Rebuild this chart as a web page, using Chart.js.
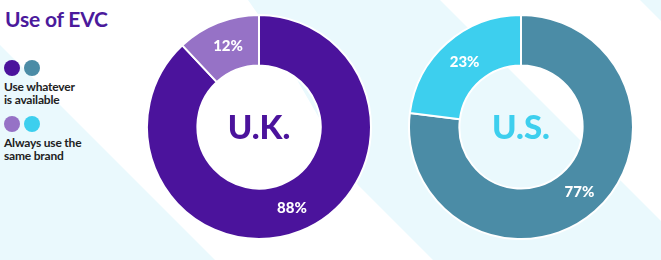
<!DOCTYPE html>
<html>
<head>
<meta charset="utf-8">
<script src="https://cdn.jsdelivr.net/npm/chart.js@4.4.0/dist/chart.umd.min.js"></script>
<style>
  html, body { margin: 0; padding: 0; background: #fff; }
  #wrap { position: relative; width: 661px; height: 260px; overflow: hidden; font-family: Lato, "Noto Sans", sans-serif; }
  #bg { position: absolute; left: 0; top: 0; }
  .chart { position: absolute; }
  #title { position: absolute; left: 5px; top: 6px; font-size: 21px; font-weight: 700; color: #4b1a9c; letter-spacing: -0.2px; }
  .legend { position: absolute; left: 4px; font-size: 12px; font-weight: 700; color: #222; line-height: 13px; letter-spacing: -0.2px; }
  .dots { height: 16px; margin-bottom: 4px; }
  .dot { display: inline-block; width: 16px; height: 16px; border-radius: 50%; margin-right: 4px; }
</style>
</head>
<body>
<div id="wrap">
  <svg id="bg" width="661" height="260">
    <polygon points="0,45 215,260 0,260" fill="#eaf9fd"/>
    <polygon points="248,0 440,0 661,221 661,260 433,260 358,185 300,85 262,20" fill="#eaf9fd"/>
    <polygon points="640,0 661,0 661,21" fill="#eaf9fd"/>
  </svg>
  <div id="title">Use of EVC</div>
  <div id="legend"></div>
  <canvas id="uk" class="chart" width="226" height="226" style="left:146px;top:14px"></canvas>
  <canvas id="us" class="chart" width="226" height="226" style="left:408px;top:14px"></canvas>
</div>
<script>
const countries = ['U.K.', 'U.S.'];
const categories = ['Use whatever is available', 'Always use the same brand'];
const legendLines = [['Use whatever', 'is available'], ['Always use the', 'same brand']];
const ukValues = [88, 12];
const usValues = [77, 23];

const ukColors = ['#4b139c', '#9672c6'];
const usColors = ['#4b8ca6', '#3dcfee'];
const centerColors = ['#4b139c', '#3dcfee'];

// legend built by hand: two dots per category
const legendTops = [60, 116];
const legendEl = document.getElementById('legend');
categories.forEach((c, i) => {
  const d = document.createElement('div');
  d.className = 'legend';
  d.style.top = legendTops[i] + 'px';
  d.innerHTML = '<div class="dots"><span class="dot" style="background:' + ukColors[i] + '"></span>' +
    '<span class="dot" style="background:' + usColors[i] + '"></span></div>' + legendLines[i].join('<br>');
  legendEl.appendChild(d);
});

const labelsPlugin = {
  id: 'pctLabels',
  afterDatasetsDraw(chart) {
    const ctx = chart.ctx;
    const meta = chart.getDatasetMeta(0);
    ctx.save();
    ctx.fillStyle = '#fff';
    ctx.font = '900 15px Lato';
    ctx.textAlign = 'center';
    ctx.textBaseline = 'middle';
    meta.data.forEach((arc, i) => {
      const p = arc.tooltipPosition();
      ctx.fillText(chart.data.datasets[0].data[i] + '%', p.x + 1, p.y);
    });
    // country name in the hole
    const a = meta.data[0];
    ctx.fillStyle = chart.options.plugins.pctLabels.centerColor;
    ctx.font = '900 33px Lato';
    ctx.fillText(chart.options.plugins.pctLabels.center, a.x, a.y + 1);
    ctx.restore();
  }
};

function makeDonut(id, values, colors, name, centerColor) {
  new Chart(document.getElementById(id), {
    type: 'doughnut',
    data: {
      labels: categories,
      datasets: [{
        data: values,
        backgroundColor: colors,
        borderColor: '#fff',
        borderWidth: 2,
        hoverOffset: 0
      }]
    },
    options: {
      responsive: false,
      animation: false,
      cutout: '55%',
      layout: { padding: 0 },
      plugins: {
        legend: { display: false },
        tooltip: { enabled: false },
        pctLabels: { center: name, centerColor: centerColor }
      }
    },
    plugins: [labelsPlugin]
  });
}

makeDonut('uk', ukValues, ukColors, countries[0], centerColors[0]);
makeDonut('us', usValues, usColors, countries[1], centerColors[1]);
</script>
</body>
</html>
